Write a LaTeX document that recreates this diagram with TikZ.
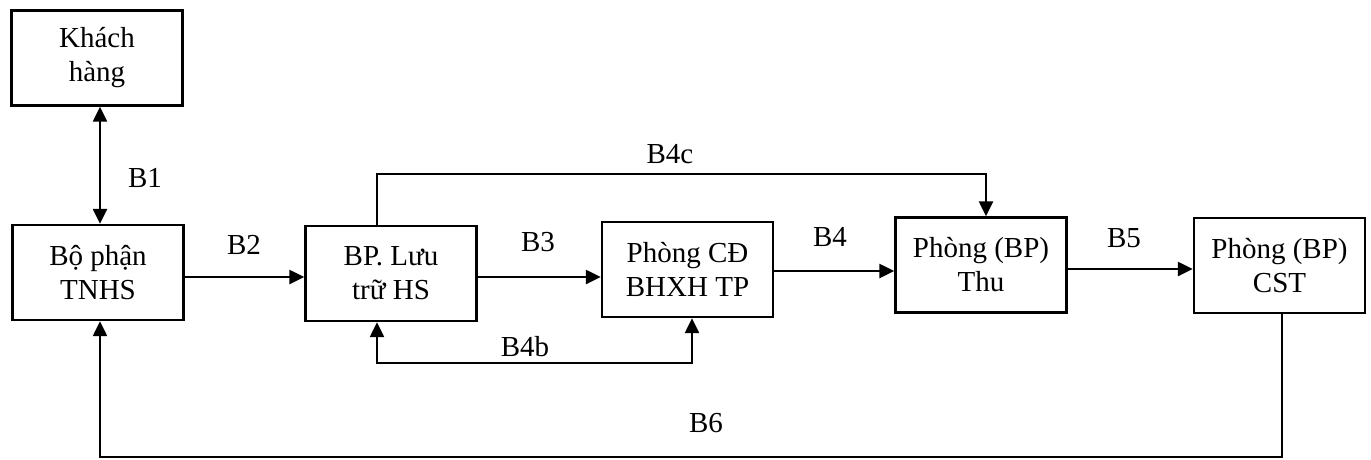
\documentclass[tikz,border=0pt]{standalone}
\usepackage{fontspec}
\setmainfont{Liberation Serif}
\usetikzlibrary{arrows.meta}

\begin{document}
\begin{tikzpicture}[x=1pt,y=-1pt,line width=2.4pt,
    box/.style={draw, minimum width=171pt, minimum height=95pt, align=center, inner sep=0pt, font=\fontsize{29}{34}\selectfont},
    lbl/.style={font=\fontsize{29}{34}\selectfont},
    arr/.style={-{Triangle[length=15pt,width=14pt]}},
    darr/.style={{Triangle[length=15pt,width=14pt]}-{Triangle[length=15pt,width=14pt]}}]
    \useasboundingbox (0,0) rectangle (1371,459);
    \node[box] (kh) at (97,58) {Khách\\hàng};
    \node[box] (tnhs) at (98,272.5) {Bộ phận\\TNHS};
    \node[box] (luu) at (391,273.5) {BP. Lưu\\trữ HS};
    \node[box] (cd) at (687.5,269.5) {Phòng CĐ\\BHXH TP};
    \node[box] (thu) at (981,265) {Phòng (BP)\\Thu};
    \node[box] (cst) at (1279.5,265.5) {Phòng (BP)\\CST};
    \node[lbl] (b1) at (145,178) {B1};
    \node[lbl] (b2) at (244,245) {B2};
    \node[lbl] (b3) at (538,242) {B3};
    \node[lbl] (b4c) at (670,154) {B4c};
    \node[lbl] (b4) at (830,237) {B4};
    \node[lbl] (b5) at (1124,238) {B5};
    \node[lbl] (b4b) at (525,347) {B4b};
    \node[lbl] (b6) at (706,423) {B6};
    \draw[darr] (kh.south -| 100,0) -- (tnhs.north -| 100,0);
    \draw[arr] (tnhs.east |- 0,277) -- (luu.west |- 0,277);
    \draw[arr] (luu.east |- 0,277) -- (cd.west |- 0,277);
    \draw[arr] (cd.east |- 0,271) -- (thu.west |- 0,271);
    \draw[arr] (thu.east |- 0,269) -- (cst.west |- 0,269);
    \draw[arr] (luu.north -| 377,0) |- (986,174) -- (thu.north -| 986,0);
    \draw[darr] (luu.south -| 377,0) |- (540,363) -| (cd.south -| 692,0);
    \draw[arr] (cst.south -| 1282,0) |- (100,457) -- (tnhs.south -| 100,0);
\end{tikzpicture}
\end{document}
